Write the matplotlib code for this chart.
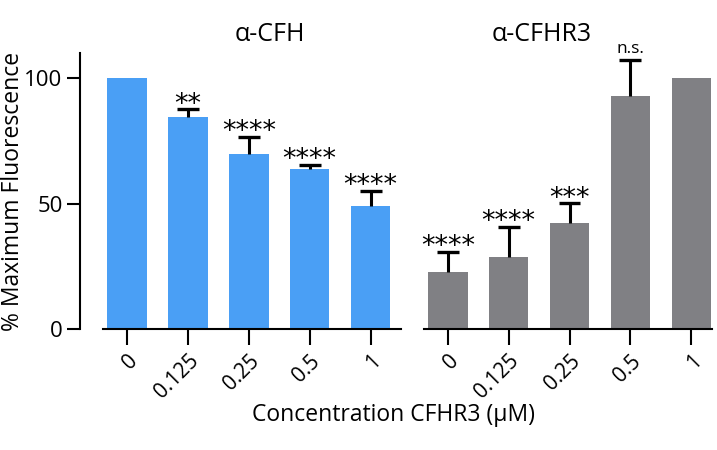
import matplotlib
matplotlib.use("Agg")
import matplotlib.pyplot as plt

# ----------------- data -----------------
conc_labels = ["0", "0.125", "0.25", "0.5", "1"]

cfh_vals = [100, 84.3, 69.6, 63.9, 49.1]
cfh_err = [0, 3.3, 7.0, 1.4, 5.9]
cfh_sig = ["", "**", "****", "****", "****"]

cfhr3_vals = [22.8, 28.8, 42.4, 92.8, 100]
cfhr3_err = [8.0, 12.0, 7.7, 14.6, 0]
cfhr3_sig = ["****", "****", "***", "n.s.", ""]

BLUE = "#4a9ff5"
GRAY = "#808084"

plt.rcParams['font.family'] = ['Open Sans', 'DejaVu Sans']

W, H = 717, 450
fig = plt.figure(figsize=(W / 100, H / 100), dpi=100)

def px_axes(x0, x1, y_top, y_bot):
    return fig.add_axes([x0 / W, 1 - y_bot / H, (x1 - x0) / W, (y_bot - y_top) / H])

ax1 = px_axes(80, 401, 53, 329)
ax2 = px_axes(424, 712, 53, 329)

def draw_panel(ax, vals, errs, sigs, color, title, title_x, xlim):
    xs = list(range(len(vals)))
    ax.bar(xs, vals, width=0.65, color=color, zorder=2)
    # upper error bars only (T shape)
    for x, v, e, s in zip(xs, vals, errs, sigs):
        if e > 0:
            ax.vlines(x, v, v + e, color='black', lw=2.2, zorder=3)
            ax.hlines(v + e, x - 0.18, x + 0.18, color='black', lw=2.4, zorder=3)
        if not s:
            continue
        if s == "n.s.":
            ax.annotate(s, (x, v + e), xytext=(0, 2), textcoords='offset points',
                        ha='center', va='bottom', fontsize=12.5)
        else:
            ax.annotate(s, (x, v + e), xytext=(0, -6), textcoords='offset points',
                        ha='center', va='bottom', fontsize=19.5, family='DejaVu Sans')
    ax.set_xlim(*xlim)
    ax.set_ylim(0, 110)
    ax.set_xticks(xs)
    ax.set_xticklabels(conc_labels, rotation=45, ha='right', rotation_mode='anchor',
                       fontsize=15)
    ax.tick_params(axis='x', length=11.5, width=1.5, pad=4)
    for sp in ["top", "right"]:
        ax.spines[sp].set_visible(False)
    ax.spines["bottom"].set_linewidth(1.5)
    ax.set_title(title, x=title_x, fontsize=18, pad=9)

draw_panel(ax1, cfh_vals, cfh_err, cfh_sig, BLUE, "α-CFH", 0.59, (-0.77, 4.5))
ax1.spines["bottom"].set_bounds(-0.39, 4.5)
ax1.spines["left"].set_linewidth(1.5)
ax1.set_yticks([0, 50, 100])
ax1.tick_params(axis='y', length=9.5, width=1.5, labelsize=16, pad=3)
ax1.set_ylabel("% Maximum Fluorescence", fontsize=16.5)
ax1.yaxis.set_label_coords(-0.17, 0.5)

draw_panel(ax2, cfhr3_vals, cfhr3_err, cfhr3_sig, GRAY, "α-CFHR3", 0.41, (-0.39, 4.34))
ax2.spines["left"].set_visible(False)
ax2.set_yticks([])

fig.text(394 / W, 1 - 415 / H, "Concentration CFHR3 (μM)", ha='center', va='center',
         fontsize=16.5)

fig.savefig("out.png", dpi=100)
